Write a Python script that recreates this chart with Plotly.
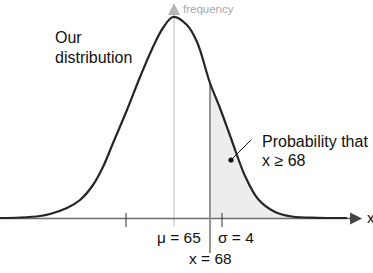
import plotly.graph_objects as go

# ---- data ----
MU = 65
SIGMA = 4
X_THRESHOLD = 68

# density curve: x value and height above the x axis (arbitrary frequency units)
CURVE_X = [50.5, 52.17, 53.83, 54.67, 56.08, 57.17, 58.25, 59.08, 59.92, 61.08,
           62.17, 63.25, 64.08, 64.92, 66.08, 66.92, 68.0, 68.83, 69.83, 70.92,
           72.0, 73.42, 74.83, 77.0, 79.42]
CURVE_Y = [0, 0.5, 2, 4, 10, 18, 33, 51, 75, 108,
           141, 171, 190, 201, 193, 176, 135, 110, 77, 42,
           19, 6, 1.5, 0.2, 0]

TICK_VALUES = [MU - SIGMA, MU + SIGMA]
LABEL_LEFT = ["Our", "distribution"]
LABEL_RIGHT = ["Probability that", "x \u2265 68"]
LABEL_MU = "\u03bc = 65"
LABEL_SIGMA = "\u03c3 = 4"
LABEL_X = "x = 68"
AXIS_Y_LABEL = "frequency"
AXIS_X_LABEL = "x"

FONT = "Liberation Sans, Arial, Helvetica, sans-serif"

fig = go.Figure()

# shaded tail x >= 68
tail_x = [x for x in CURVE_X if x >= X_THRESHOLD]
tail_y = [y for x, y in zip(CURVE_X, CURVE_Y) if x >= X_THRESHOLD]
fig.add_trace(go.Scatter(x=tail_x, y=tail_y, mode="lines", line=dict(width=0, shape="spline"),
                         fill="tozeroy", fillcolor="#ededed", hoverinfo="skip"))

# mean line (frequency axis)
fig.add_trace(go.Scatter(x=[MU, MU], y=[-8, 208], mode="lines",
                         line=dict(color="#d2d2d2", width=1.5), hoverinfo="skip"))

# x axis line
fig.add_trace(go.Scatter(x=[50.5, 80.0], y=[-0.5, -0.5], mode="lines",
                         line=dict(color="#6e6e6e", width=1.5), hoverinfo="skip"))

# threshold line
fig.add_trace(go.Scatter(x=[X_THRESHOLD, X_THRESHOLD], y=[-35, 135], mode="lines",
                         line=dict(color="#8a8a8a", width=1.8), hoverinfo="skip"))

# sigma ticks
tx, ty = [], []
for t in TICK_VALUES:
    tx += [t, t, None]
    ty += [5, -9, None]
fig.add_trace(go.Scatter(x=tx, y=ty, mode="lines", line=dict(color="#333333", width=1),
                         hoverinfo="skip"))

# density curve
fig.add_trace(go.Scatter(x=CURVE_X, y=CURVE_Y, mode="lines",
                         line=dict(color="#262626", width=2.2, shape="spline"),
                         hoverinfo="skip"))

ann = []
# axis arrowheads
ann.append(dict(x=80.67, y=-0.5, ax=79.5, ay=-0.5, xref="x", yref="y", axref="x", ayref="y",
                showarrow=True, arrowhead=2, arrowsize=1.6, arrowwidth=1.5,
                arrowcolor="#444444", text=""))
ann.append(dict(x=MU, y=215, ax=MU, ay=205, xref="x", yref="y", axref="x", ayref="y",
                showarrow=True, arrowhead=2, arrowsize=1.6, arrowwidth=1.5,
                arrowcolor="#b5b5b5", text=""))
# pointer
ann.append(dict(x=69.75, y=58, ax=71.58, ay=80, xref="x", yref="y", axref="x", ayref="y",
                showarrow=True, arrowhead=6, arrowsize=1.3, arrowwidth=1,
                arrowcolor="#111111", text=""))

def txt(s, x, y, xanchor, size=16, color="#111111"):
    return dict(x=x, y=y, xref="x", yref="y", text=s, showarrow=False, xanchor=xanchor,
                yanchor="middle", font=dict(family=FONT, size=size, color=color),
                borderpad=0)

ann.append(txt(LABEL_LEFT[0], 50.5 + 54 / 12, 180.5, "left"))
ann.append(txt(LABEL_LEFT[1], 50.5 + 54 / 12, 160.5, "left"))
ann.append(txt(LABEL_RIGHT[0], 50.5 + 261 / 12, 76.5, "left"))
ann.append(txt(LABEL_RIGHT[1], 50.5 + 261 / 12, 57.5, "left"))
ann.append(txt(LABEL_MU, 67.33, -19, "right", size=15.5))
ann.append(txt(LABEL_SIGMA, 68.58, -19, "left", size=15.5))
ann.append(txt(LABEL_X, X_THRESHOLD, -40, "center", size=15.5))
ann.append(txt(AXIS_Y_LABEL, 65.7, 209, "left", size=11.5, color="#a8a8a8"))
ann.append(txt(AXIS_X_LABEL, 81.0, 1, "left", size=15))

fig.update_layout(
    width=373, height=273,
    margin=dict(l=0, r=0, t=0, b=0),
    paper_bgcolor="white", plot_bgcolor="white",
    showlegend=False,
    xaxis=dict(range=[50.5, 50.5 + 373 / 12], visible=False, fixedrange=True),
    yaxis=dict(range=[-55, 218], visible=False, fixedrange=True),
    annotations=ann,
)

fig.write_html("out.html")
